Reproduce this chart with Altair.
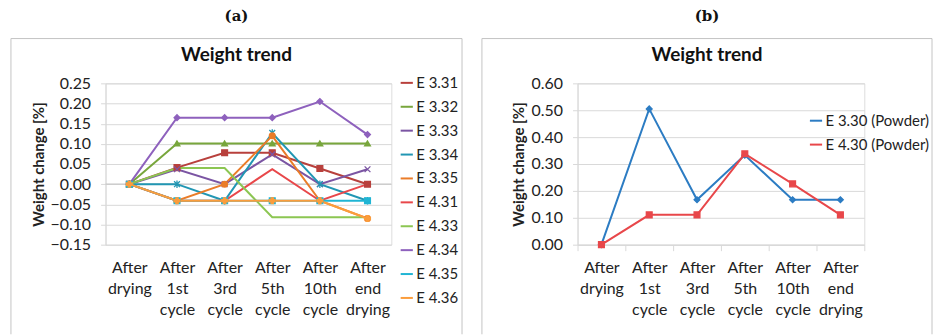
import altair as alt
import pandas as pd

categories = ["After drying", "After 1st cycle", "After 3rd cycle", "After 5th cycle",
              "After 10th cycle", "After end drying"]

# Panel (a)
series_a = ["E 3.31", "E 3.32", "E 3.33", "E 3.34", "E 3.35",
            "E 4.31", "E 4.33", "E 4.34", "E 4.35", "E 4.36"]
e331 = [0, 0.041, 0.078, 0.078, 0.039, 0]
e332 = [0, 0.101, 0.101, 0.101, 0.101, 0.101]
e333 = [0, 0.037, 0, 0.074, 0, 0.037]
e334 = [0, 0, -0.041, 0.127, 0, -0.041]
e335 = [0, -0.041, 0, 0.12, -0.041, -0.085]
e431 = [0, -0.041, -0.041, 0.037, -0.041, 0]
e433 = [0, 0.04, 0.04, -0.082, -0.082, -0.082]
e434 = [0, 0.165, 0.165, 0.165, 0.205, 0.123]
e435 = [0, -0.041, -0.041, -0.041, -0.041, -0.041]
e436 = [0, -0.041, -0.041, -0.041, -0.041, -0.085]
values_a = [e331, e332, e333, e334, e335, e431, e433, e434, e435, e436]
colors_a = ["#b8403c", "#78a63c", "#7b55a3", "#2196b3", "#ea7c28",
            "#e8474a", "#8cc652", "#8e61bd", "#20b5d4", "#fb9d3c"]
# marker per series (None = line only)
shapes_a = ["square", "triangle-up", "M-1,-1L1,1M-1,1L1,-1",
            "M-1,-1L1,1M-1,1L1,-1M0,-1.3L0,1.3", "circle",
            None, None, "diamond", "square", "cross"]

# Panel (b)
series_b = ["E 3.30 (Powder)", "E 4.30 (Powder)"]
e330 = [0, 0.505, 0.167, 0.333, 0.167, 0.167]
e430 = [0, 0.111, 0.111, 0.338, 0.226, 0.111]
values_b = [e330, e430]
colors_b = ["#2c7cc3", "#e8474a"]
shapes_b = ["diamond", "square"]

FONT = "Lato"
TXT = "#222222"
GRID = "#d9d9d9"
BOX = "#c4c4c4"


def long_df(series, values):
    rows = []
    for s, vals in zip(series, values):
        for c, v in zip(categories, vals):
            rows.append({"series": s, "stage": c, "value": v})
    return pd.DataFrame(rows)


df_a = long_df(series_a, values_a)
df_b = long_df(series_b, values_b)


def panel(df, series, colors, shapes, ydom, ystep, letter,
          pw, legend_x, legend_y, box_left, box_right, zero_rule, xlabel_pad, ytitle_pad):
    xenc = alt.X("stage:N", sort=categories,
                 scale=alt.Scale(type="band", domain=categories, paddingInner=0, paddingOuter=0),
                 axis=alt.Axis(title=None, labelAngle=0, labelExpr="split(datum.label, ' ')",
                               labelLineHeight=21, labelFontSize=16, labelFont=FONT,
                               labelColor=TXT, labelPadding=xlabel_pad, labelBaseline="top",
                               domain=not zero_rule, domainColor=GRID, ticks=not zero_rule,
                               tickBand="extent", tickSize=6, tickColor=GRID, grid=False))
    nticks = int(round((ydom[1] - ydom[0]) / ystep)) + 1
    tvals = [round(ydom[0] + i * ystep, 4) for i in range(nticks)]
    yenc = alt.Y("value:Q", scale=alt.Scale(domain=ydom, nice=False, zero=False),
                 axis=alt.Axis(title="Weight change [%]", titleFont=FONT, titleFontSize=15,
                               titleFontWeight="bold", titleColor=TXT, titlePadding=ytitle_pad,
                               values=tvals, format=".2f", labelFont=FONT, labelFontSize=16,
                               labelColor=TXT, labelPadding=10, tickSize=5, tickColor=GRID,
                               labelOverlap=False, labelBound=False, labelFlush=False,
                               domain=True, domainColor=GRID, gridColor=GRID, grid=True))
    color = alt.Color("series:N", scale=alt.Scale(domain=series, range=colors),
                      legend=alt.Legend(title=None, orient="none", legendX=legend_x,
                                        legendY=legend_y, symbolType="stroke",
                                        symbolStrokeWidth=2, symbolSize=150,
                                        labelFont=FONT, labelFontSize=15, labelColor=TXT,
                                        labelOffset=2, rowPadding=8))
    base = alt.Chart(df)
    lines = base.mark_line(strokeWidth=2).encode(x=xenc, y=yenc, color=color)
    pt_layers = []
    for s, c, sh in zip(series, colors, shapes):
        if sh is None:
            continue
        pt_layers.append(
            base.transform_filter(alt.datum.series == s)
            .mark_point(filled=True, shape=sh, size=34, fill=c, stroke=c,
                        strokeWidth=1.3, opacity=1)
            .encode(x=xenc, y=yenc))

    top_y = -45
    bot_y = 252
    one = pd.DataFrame({"k": [0]})
    box_l = alt.Chart(one).mark_rule(color=BOX, strokeWidth=1).encode(
        x=alt.value(box_left), y=alt.value(top_y), y2=alt.value(bot_y))
    box_t = alt.Chart(one).mark_rule(color=BOX, strokeWidth=1).encode(
        x=alt.value(box_left), x2=alt.value(box_right), y=alt.value(top_y))
    box_r = alt.Chart(one).mark_rule(color=BOX, strokeWidth=1).encode(
        x=alt.value(box_right), y=alt.value(top_y), y2=alt.value(bot_y))
    mid = (box_left + box_right) / 2
    title = alt.Chart(pd.DataFrame({"t": ["Weight trend"]})).mark_text(
        font=FONT, fontSize=19, fontWeight="bold", color="#111111", baseline="middle").encode(
        text="t:N", x=alt.value(mid), y=alt.value(-28))
    lab = alt.Chart(pd.DataFrame({"t": [letter]})).mark_text(
        font="DejaVu Serif", fontSize=15, fontWeight="bold", color="#111111",
        baseline="middle").encode(text="t:N", x=alt.value(mid), y=alt.value(-68))
    layers = []
    if zero_rule:
        zr = alt.Chart(pd.DataFrame({"value": [0.0]})).mark_rule(
            color="#c8c8c8", strokeWidth=1.2).encode(y=yenc)
        layers.append(zr)
    layers += [lines] + pt_layers + [box_l, box_t, box_r, title, lab]
    return alt.layer(*layers).properties(width=pw, height=162)


pa = panel(df_a, series_a, colors_a, shapes_a, [-0.15, 0.25], 0.05, "(a)",
           287, 295, -8, -95, 358, True, 15, 3)
pb = panel(df_b, series_b, colors_b, shapes_b, [0.0, 0.60], 0.10, "(b)",
           288, 232, 30, -96, 356, False, 9, 5)

chart = alt.hconcat(pa, pb, spacing=18).resolve_scale(color="independent").properties(
    padding={"left": 10, "top": 7, "right": 0, "bottom": 0}
).configure_view(stroke=None).configure(background="white")

chart.save("out.html", embed_options={"renderer": "svg", "actions": False})
